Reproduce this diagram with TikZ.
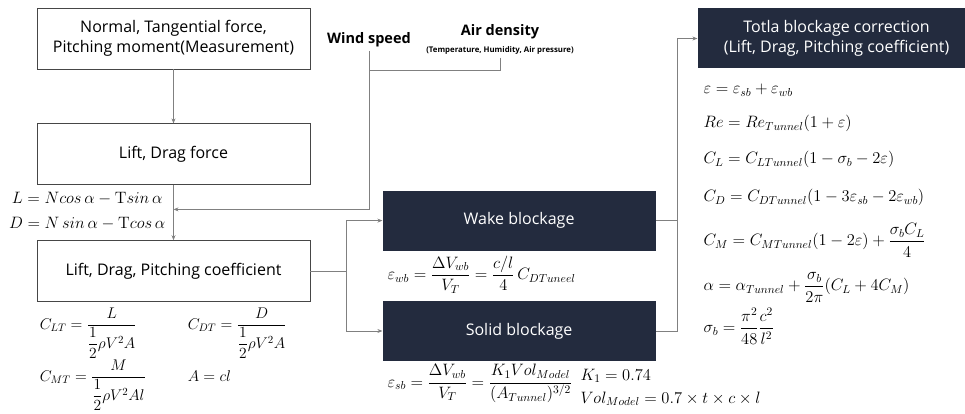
\documentclass[tikz,border=0pt]{standalone}
\usepackage{fix-cm}
\usepackage{amsmath, amssymb}
\usepackage[no-math]{fontspec}
\setmainfont{Open Sans}
\usepackage{tikz}
\usetikzlibrary{arrows.meta, positioning, calc}

\definecolor{navy}{RGB}{35,43,62}
\definecolor{linegray}{RGB}{128,128,128}
\definecolor{framegray}{RGB}{70,70,70}
\newcommand{\boxsize}{\fontsize{16}{19.5}\selectfont}
\newcommand{\eqsize}{\fontsize{16.5}{20}\selectfont}

\begin{document}
\begin{tikzpicture}[
    >={Stealth[length=5pt, width=4pt]},
    box_node/.style={rectangle, draw=framegray, thick, fill=white, align=center, minimum width=273pt, minimum height=61pt, font=\boxsize},
    dark_node/.style={rectangle, fill=navy, text=white, align=center, minimum width=273pt, minimum height=60pt, font=\boxsize},
    eq_node/.style={inner sep=0pt, font=\eqsize},
    coef_eq/.style={eq_node, font=\fontsize{15.5}{19}\selectfont},
    link/.style={draw=linegray, thick},
    ]
    \useasboundingbox (0,0) rectangle (965pt,-414pt);
    % Nodes
    \node[box_node] (meas) at (173.5pt,-38.5pt) {Normal, Tangential force,\\Pitching moment(Measurement)};
    \node[box_node] (force) [below=54pt of meas] {Lift, Drag force};
    \node[box_node] (coef) [below=55pt of force] {Lift, Drag, Pitching coefficient};
    \node[dark_node] (wake) [right=72pt of coef, yshift=50.5pt] {Wake blockage};
    \node[dark_node] (solid) [below=50pt of wake] {Solid blockage};
    \node[dark_node, minimum width=278pt] (total) [right=387pt of meas] {Totla blockage correction\\(Lift, Drag, Pitching coefficient)};

    \node[font=\bfseries\fontsize{14.5}{17}\selectfont] (wind) at (369pt,-40pt) {Wind speed};
    \node[font=\bfseries\fontsize{14.5}{17}\selectfont] (air) at (500pt,-32pt) {Air density};
    \node[font=\bfseries\fontsize{7.8}{9}\selectfont, below=0pt of air] (air_sub) {(Temperature, Humidity, Air pressure)};

    % Equations
    \node[eq_node, align=center, font=\fontsize{16.5}{25}\selectfont, left=8pt of force.south, yshift=-26pt, anchor=east] (ld) {$L = Ncos\,\alpha - \mathrm{T}sin\,\alpha$\\$D = N\,sin\,\alpha - \mathrm{T}cos\,\alpha$};
    \node[coef_eq, below right=6pt and 3pt of coef.south west] (clt) {$C_{LT} = \dfrac{L}{\dfrac{1}{2}\rho V^2 A}$};
    \node[coef_eq, below right=6pt and 151pt of coef.south west] (cdt) {$C_{DT} = \dfrac{D}{\dfrac{1}{2}\rho V^2 A}$};
    \node[coef_eq, below right=58pt and 3pt of coef.south west] (cmt) {$C_{MT} = \dfrac{M}{\dfrac{1}{2}\rho V^2 Al}$};
    \node[coef_eq, anchor=base west] (acl) at (cdt.west |- cmt.base) {$A = cl$};

    \node[eq_node, below right=5pt and 5pt of wake.south west] (wb_eq) {$\varepsilon_{wb} = \dfrac{\Delta V_{wb}}{V_T} = \dfrac{c/l}{4}\,C_{DTuneel}$};
    \node[eq_node, below right=3pt and 5pt of solid.south west] (sb_eq) {$\varepsilon_{sb} = \dfrac{\Delta V_{wb}}{V_T} = \dfrac{K_1 Vol_{Model}}{(A_{Tunnel})^{3/2}}$};
    \node[eq_node, align=left, font=\fontsize{16.5}{23}\selectfont, right=8pt of sb_eq, yshift=-4pt] (k_vol) {$K_1 = 0.74$\\$Vol_{Model} = 0.7\times t\times c\times l$};

    \node[eq_node, anchor=base west] (eps) at ([shift={(6pt,-25pt)}]total.south west) {$\varepsilon = \varepsilon_{sb} + \varepsilon_{wb}$};
    \node[eq_node, below=34pt of eps.base west, anchor=base west] (re) {$Re = Re_{Tunnel}(1+\varepsilon)$};
    \node[eq_node, below=36pt of re.base west, anchor=base west] (cl) {$C_L = C_{LTunnel}(1-\sigma_b-2\varepsilon)$};
    \node[eq_node, below=38pt of cl.base west, anchor=base west] (cd) {$C_D = C_{DTunnel}(1-3\varepsilon_{sb}-2\varepsilon_{wb})$};
    \node[eq_node, below=44pt of cd.base west, anchor=base west] (cm) {$C_M = C_{MTunnel}(1-2\varepsilon)+\dfrac{\sigma_b C_L}{4}$};
    \node[eq_node, below=45pt of cm.base west, anchor=base west] (al) {$\alpha = \alpha_{Tunnel} + \dfrac{\sigma_b}{2\pi}(C_L + 4C_M)$};
    \node[eq_node, below=42pt of al.base west, anchor=base west] (sig) {$\sigma_b = \dfrac{\pi^2}{48}\dfrac{c^2}{l^2}$};

    % Connectors
    \coordinate (merge) at ($(force.south)!0.44!(coef.north)$);
    \coordinate (air_join) at ($(wind.south)+(0,-20pt)$);
    \draw[link, ->] (meas) -- (force);
    \draw[link, ->] (force) -- (coef);
    \draw[link, ->] (wind.south) |- (merge);
    \draw[link] (air_sub.south) |- (air_join);
    \draw[link] (coef.east) -- ++(36pt,0) coordinate (split);
    \draw[link, ->] (split) |- (wake.west);
    \draw[link, ->] (split) |- (solid.west);
    \draw[link] (wake.east) -- ++(22pt,0) coordinate (gather);
    \draw[link, ->] (solid.east) -| (gather) |- (total.west);
\end{tikzpicture}
\end{document}
